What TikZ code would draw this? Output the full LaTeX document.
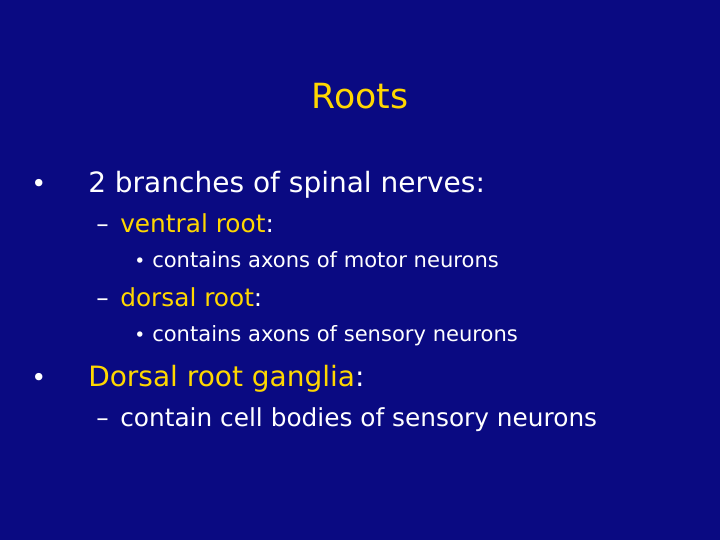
\documentclass[tikz,border=0pt]{standalone}
\usepackage{fontspec}
\setmainfont{DejaVu Sans}
\definecolor{bg}{RGB}{10,10,130}
\definecolor{ttl}{RGB}{255,215,0}
\begin{document}
\begin{tikzpicture}[x=0.75pt,y=-0.75pt,
  t/.style={anchor=base west,inner sep=0pt,text=white},
  l1/.style={t,font=\fontsize{21}{24}\selectfont},
  l2/.style={t,font=\fontsize{18.6}{20}\selectfont},
  l3/.style={t,font=\fontsize{15.8}{17}\selectfont},
  bl/.style={t,font=\fontsize{19}{21}\selectfont},
  bs/.style={t,font=\fontsize{14}{16}\selectfont}]
\fill[bg] (0,0) rectangle (720,540);
\useasboundingbox (0,0) rectangle (720,540);
\node[t,anchor=base,text=ttl,font=\fontsize{26}{30}\selectfont] (title) at (360,108) {Roots};
\node[bl] (b1) at (31,192) {•};
\node[l1] (t1) at (88,192) {2 branches of spinal nerves:};
\node[l2] (d1) at (96,232) {–};
\node[l2] (t2) at (120,232) {\textcolor{ttl}{ventral root}:};
\node[bs] (b2) at (134,267) {•};
\node[l3] (t3) at (152,267) {contains axons of motor neurons};
\node[l2] (d2) at (96,306) {–};
\node[l2] (t4) at (120,306) {\textcolor{ttl}{dorsal root}:};
\node[bs] (b3) at (134,341) {•};
\node[l3] (t5) at (152,341) {contains axons of sensory neurons};
\node[bl] (b4) at (31,386) {•};
\node[l1] (t6) at (88,386) {\textcolor{ttl}{Dorsal root ganglia}:};
\node[l2] (d3) at (96,426) {–};
\node[l2] (t7) at (120,426) {contain cell bodies of sensory neurons};
\end{tikzpicture}
\end{document}
